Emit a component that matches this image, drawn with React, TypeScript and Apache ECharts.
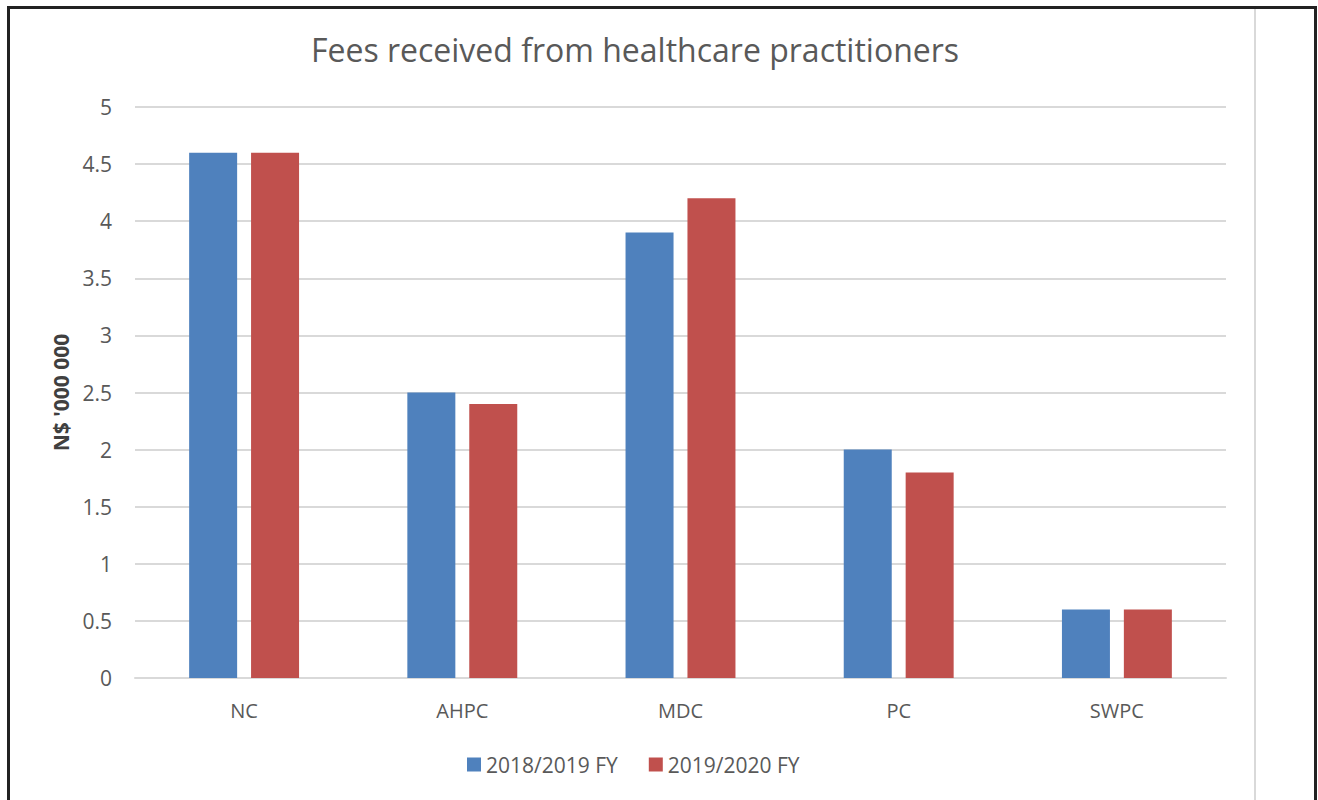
import React, { useEffect, useRef } from "react";
import * as echarts from "echarts";

const categories = ["NC", "AHPC", "MDC", "PC", "SWPC"];
const fy2018 = [4.6, 2.5, 3.9, 2.0, 0.6];
const fy2019 = [4.6, 2.4, 4.2, 1.8, 0.6];
const seriesNames = ["2018/2019 FY", "2019/2020 FY"];
const titleText = "Fees received from healthcare practitioners";
const yAxisName = "N$ '000 000";

const FONT = "'Open Sans', 'Liberation Sans', sans-serif";
const TEXT = "#595959";

export default function App() {
  const ref = useRef<HTMLDivElement>(null);
  useEffect(() => {
    if (!ref.current) return;
    const chart = echarts.init(ref.current, null, { renderer: "svg" });
    chart.setOption({
      animation: false,
      backgroundColor: "#ffffff",
      textStyle: { fontFamily: FONT },
      title: {
        text: titleText,
        left: 630,
        textAlign: "center",
        top: 28,
        textStyle: { fontFamily: FONT, fontSize: 32, fontWeight: "normal", color: TEXT },
      },
      legend: {
        data: seriesNames,
        left: 467,
        top: 754,
        padding: 0,
        itemWidth: 14,
        itemHeight: 14,
        itemGap: 31,
        icon: "rect",
        textStyle: { fontFamily: FONT, fontSize: 21, color: TEXT },
      },
      grid: { left: 135, right: 92, top: 107, bottom: 122, containLabel: false },
      xAxis: {
        type: "category",
        data: categories,
        axisTick: { show: false },
        axisLine: { lineStyle: { color: "#d9d9d9", width: 2 } },
        axisLabel: { fontFamily: FONT, fontSize: 20, color: TEXT, margin: 22 },
      },
      yAxis: {
        type: "value",
        min: 0,
        max: 5,
        interval: 0.5,
        name: yAxisName,
        nameLocation: "middle",
        nameGap: 64,
        nameTextStyle: { fontFamily: FONT, fontSize: 21, fontWeight: "bold", color: "#404040" },
        axisLine: { show: false },
        axisTick: { show: false },
        splitLine: { lineStyle: { color: "#d9d9d9", width: 2 } },
        axisLabel: { fontFamily: FONT, fontSize: 21, color: TEXT, margin: 23 },
      },
      series: [
        {
          name: seriesNames[0],
          type: "bar",
          data: fy2018,
          barWidth: 48,
          barGap: "29%",
          itemStyle: { color: "#4F81BD" },
        },
        {
          name: seriesNames[1],
          type: "bar",
          data: fy2019,
          barWidth: 48,
          itemStyle: { color: "#C0504D" },
        },
      ],
      graphic: [
        {
          type: "line",
          shape: { x1: 1255, y1: 9, x2: 1255, y2: 800 },
          style: { stroke: "#d9d9d9", lineWidth: 2 },
          silent: true,
        },
        {
          type: "rect",
          shape: { x: 8.5, y: 7.5, width: 1307, height: 800 },
          style: { fill: "none", stroke: "#222222", lineWidth: 3 },
          silent: true,
        },
      ],
    });
    return () => chart.dispose();
  }, []);
  return (
    <div
      ref={ref}
      style={{ position: "absolute", left: 0, top: 0, width: 1318, height: 800 }}
    />
  );
}
